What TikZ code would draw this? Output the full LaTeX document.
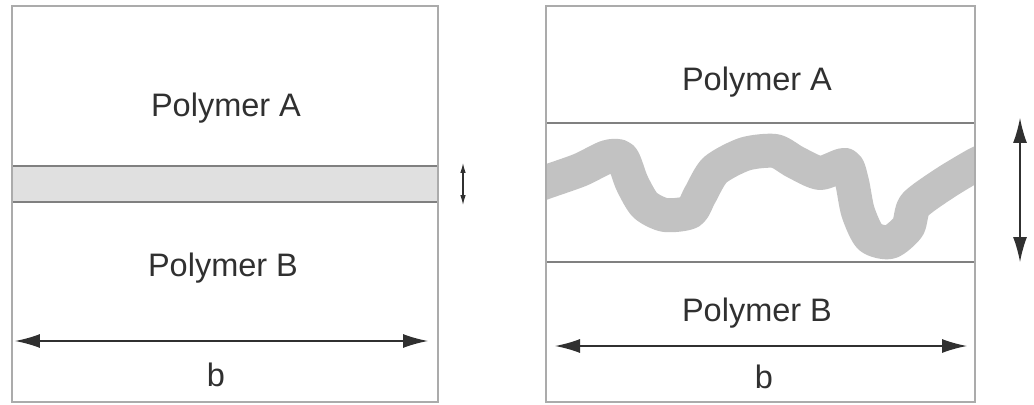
\documentclass[tikz,border=0pt]{standalone}
\usepackage{fontspec}
\setmainfont{Liberation Sans}
\usepackage{tikz}
\usetikzlibrary{arrows.meta,positioning,calc}

\definecolor{edgegray}{HTML}{ABABAB}
\definecolor{linegray}{HTML}{808080}
\definecolor{bandgray}{HTML}{E0E0E0}
\definecolor{chaingray}{HTML}{C2C2C2}
\definecolor{textgray}{HTML}{303030}

\begin{document}
\begin{tikzpicture}[
        x=0.02cm, y=-0.02cm,
        font=\fontsize{18.5}{22}\selectfont,
        % styles
        frame/.style={draw=edgegray, line width=0.8pt},
        interface/.style={draw=linegray, line width=0.7pt},
        layer/.style={text=textgray, inner sep=0pt},
        dimarrow/.style={{Latex[length=5mm,width=2.8mm]}-{Latex[length=5mm,width=2.8mm]}, line width=0.8pt, textgray},
        smallarrow/.style={{Latex[length=2mm,width=1.1mm]}-{Latex[length=2mm,width=1.1mm]}, line width=0.6pt, textgray},
        chain/.style={draw=chaingray, line width=0.68cm, line join=round, line cap=butt}
    ]
    \useasboundingbox (0,0) rectangle (1034,405);

    % Left: sharp interface
    \fill[bandgray] (12,166) rectangle (438,202);
    \draw[interface] (12,166) -- (438,166);
    \draw[interface] (12,202) -- (438,202);
    \draw[frame] (12,6) rectangle (438,402);
    \node[layer] (polyAleft) at (226,108) {Polymer A};
    \node[layer] (polyBleft) at (223,268) {Polymer B};
    \coordinate (bLleft) at (15,341);
    \coordinate (bRleft) at (428,341);
    \draw[dimarrow] (bLleft) -- (bRleft);
    \node[layer] (bleft) at (216,375) {b};
    \coordinate (dTleft) at (463,163);
    \coordinate (dBleft) at (463,205);
    \draw[smallarrow] (dTleft) -- (dBleft);

    % Right: broad interface with chain
    \begin{scope}
        \clip (546,124) rectangle (975,262);
        \draw[chain] plot[smooth, tension=0.45] coordinates {
            (530,188) (546,182) (580,170) (607,157) (622,158) (632,183)
            (645,205) (665,215) (690,212) (700,195) (715,170) (745,154)
            (775,151) (795,162) (820,173) (845,165) (852,182) (858,212)
            (870,237) (890,242) (908,227) (915,205) (945,183) (975,165) (990,158)};
    \end{scope}
    \draw[interface] (546,123) -- (975,123);
    \draw[interface] (546,262) -- (975,262);
    \draw[frame] (546,6) rectangle (975,402);
    \node[layer] (polyAright) at (757,82) {Polymer A};
    \node[layer] (polyBright) at (757,313) {Polymer B};
    \coordinate (bLright) at (555,346);
    \coordinate (bRright) at (967,346);
    \draw[dimarrow] (bLright) -- (bRright);
    \node[layer] (bright) at (764,377) {b};
    \coordinate (dTright) at (1020,118);
    \coordinate (dBright) at (1020,262);
    \draw[dimarrow] (dTright) -- (dBright);

\end{tikzpicture}
\end{document}
